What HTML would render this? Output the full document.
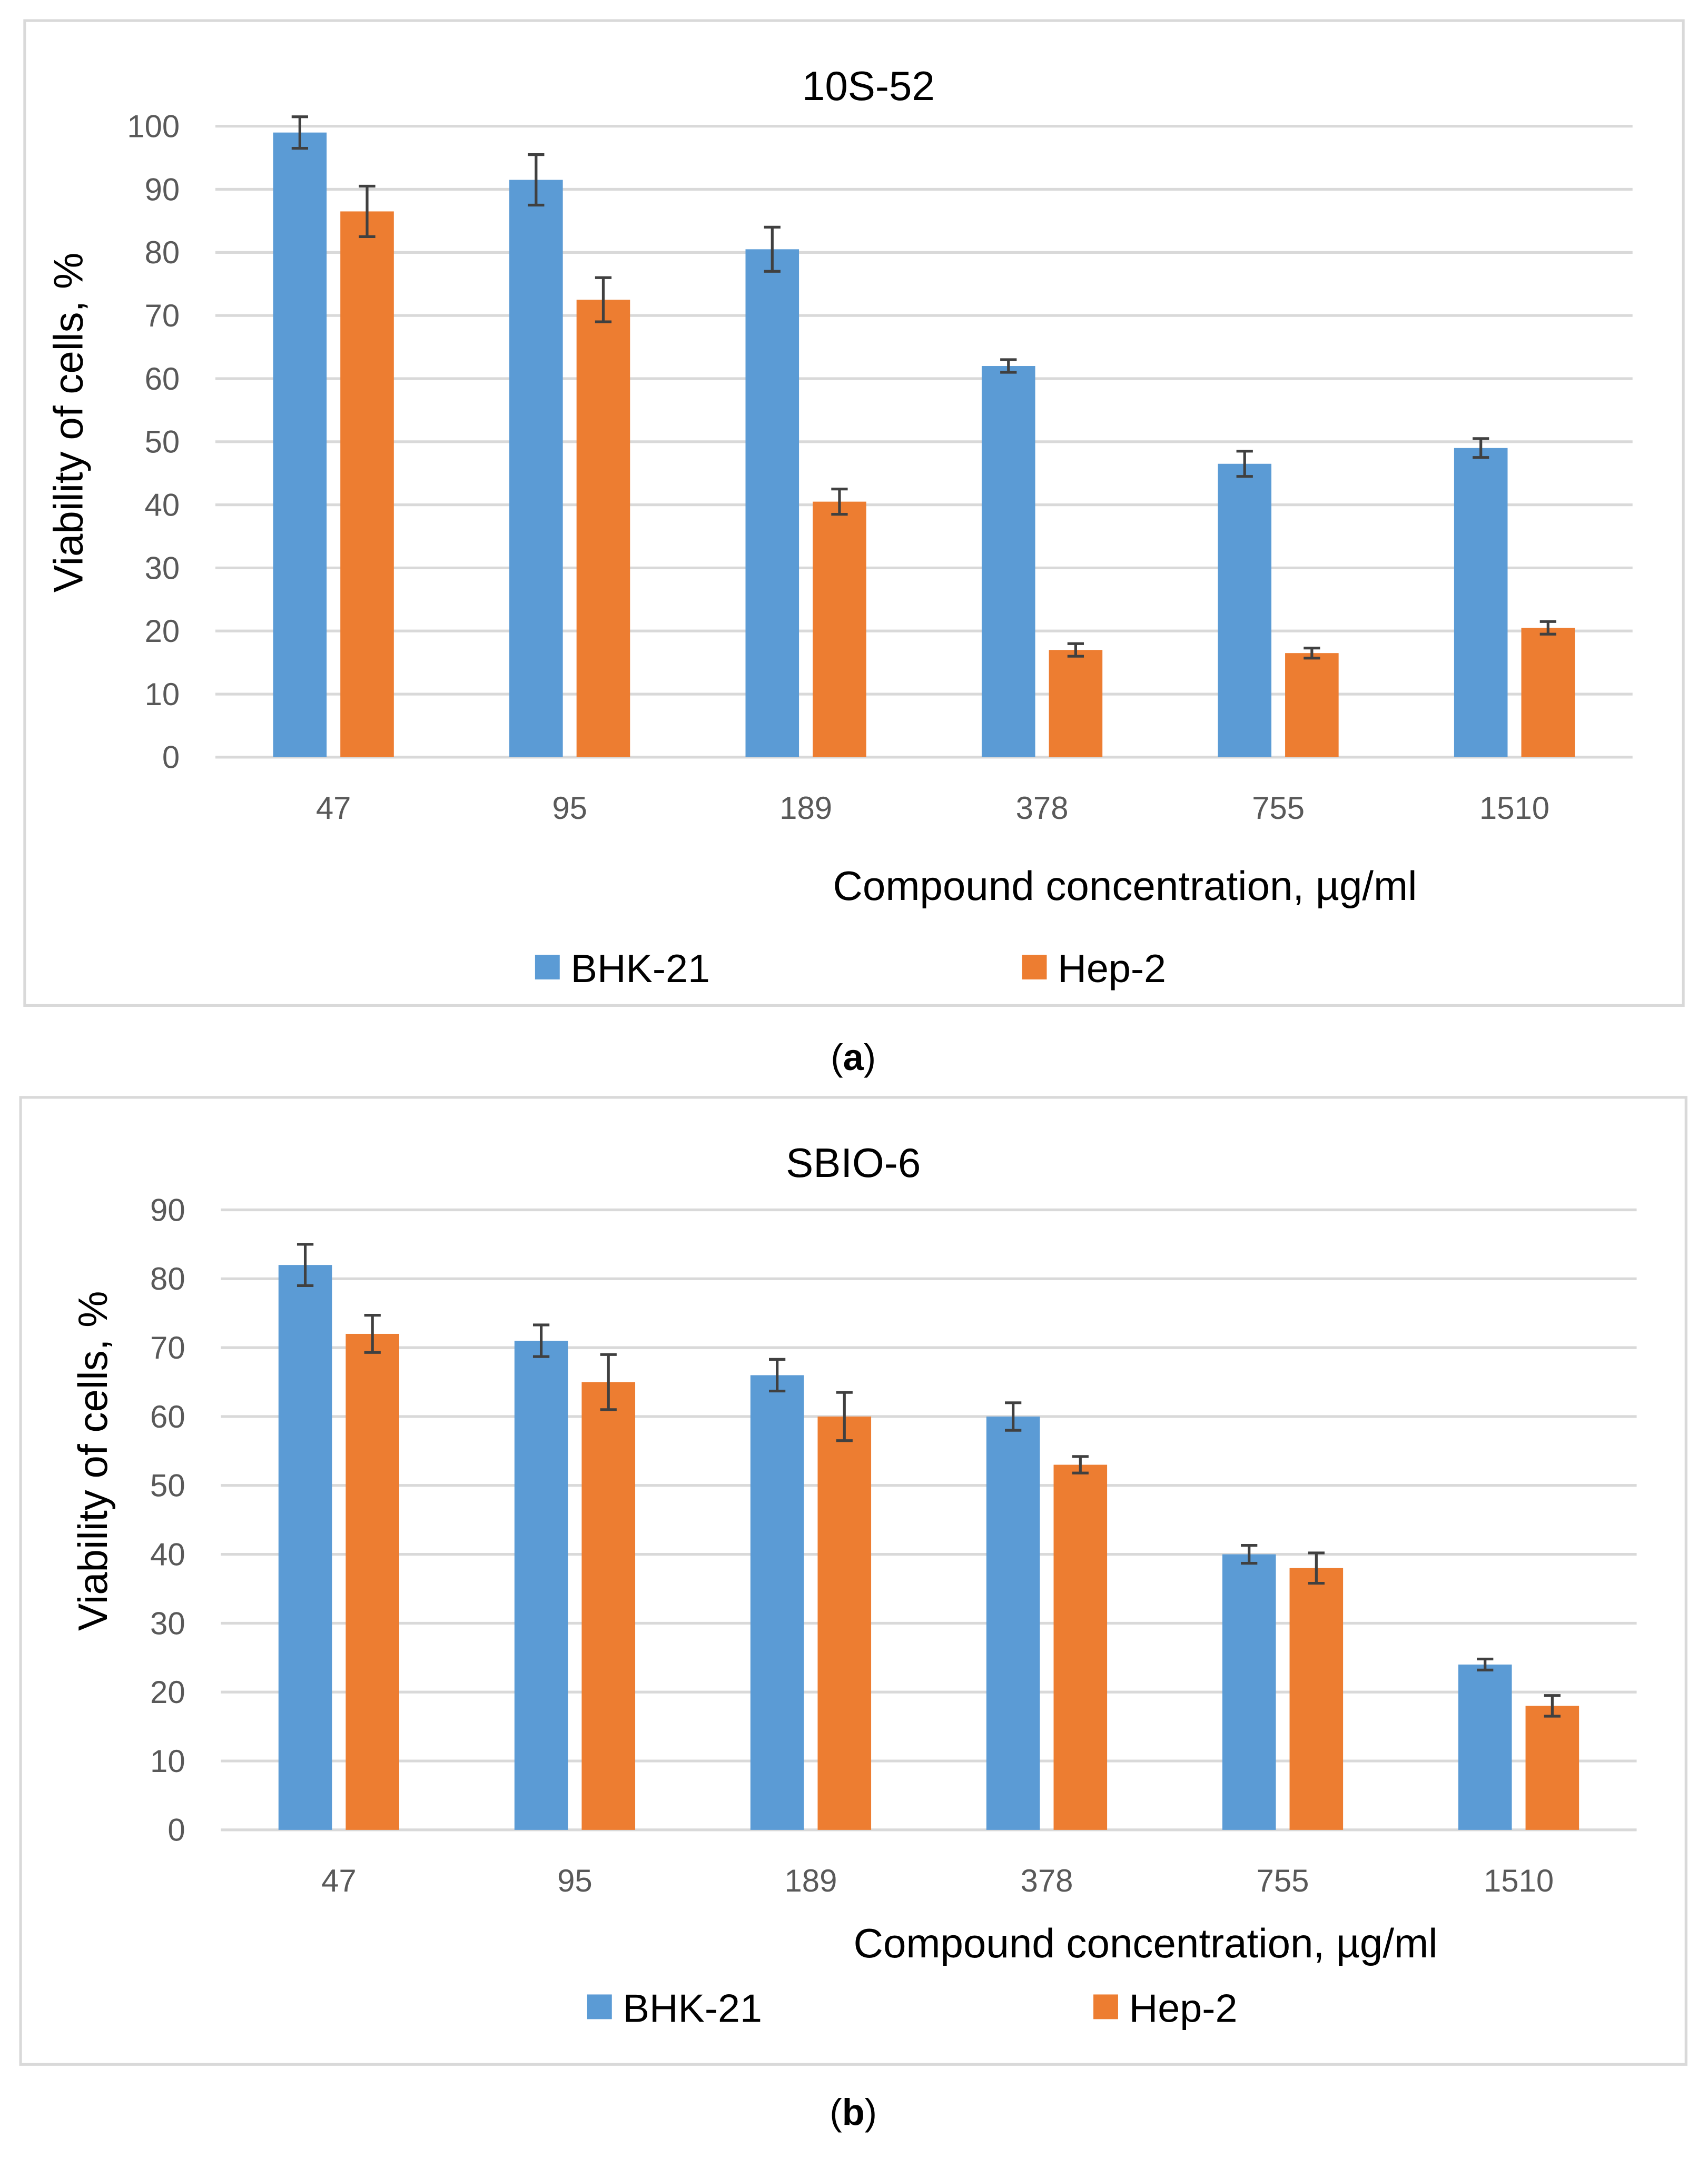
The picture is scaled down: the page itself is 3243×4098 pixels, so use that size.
<!DOCTYPE html>
<html><head><meta charset="utf-8"><style>
html,body{margin:0;padding:0;background:#fff;}
svg{display:block;}
text{font-family:"Liberation Sans",sans-serif;}
</style></head><body>
<svg id="root" width="3243" height="4098" viewBox="0 0 1245 1573.2" xmlns="http://www.w3.org/2000/svg">
<rect x="0" y="0" width="1245" height="1573.2" fill="#fff"/>
<g id="chartA"></g>
<g id="chartB"></g>
<text x="622" y="780" font-family="Liberation Serif,serif" font-size="27" text-anchor="middle" fill="#000">(<tspan font-weight="bold">a</tspan>)</text>
<text x="622" y="1549" font-family="Liberation Serif,serif" font-size="27" text-anchor="middle" fill="#000">(<tspan font-weight="bold">b</tspan>)</text>
</svg>
<script>
const categories = ["47","95","189","378","755","1510"];
const aBHK = [99, 91.5, 80.5, 62, 46.5, 49];
const aBHKerr = [2.5, 4, 3.5, 1, 2, 1.5];
const aHep = [86.5, 72.5, 40.5, 17, 16.5, 20.5];
const aHepErr = [4, 3.5, 2, 1, 0.8, 1];
const aTicks = [0,10,20,30,40,50,60,70,80,90,100];
const bBHK = [82, 71, 66, 60, 40, 24];
const bBHKerr = [3, 2.3, 2.3, 2, 1.3, 0.8];
const bHep = [72, 65, 60, 53, 38, 18];
const bHepErr = [2.7, 4, 3.5, 1.2, 2.2, 1.5];
const bTicks = [0,10,20,30,40,50,60,70,80,90];

const NS = "http://www.w3.org/2000/svg";
function mk(parent, tag, attrs, text){
  const e = document.createElementNS(NS, tag);
  for (const k in attrs) e.setAttribute(k, attrs[k]);
  if (text !== undefined) e.textContent = text;
  parent.appendChild(e);
  return e;
}
function draw(g, cfg, bhk, bhkE, hep, hepE, ticks){
  const y = v => cfg.y0 - (v - 0) / (ticks[ticks.length-1]) * (cfg.y0 - cfg.yTop);
  const xc = i => cfg.x0 + (i + 0.5) * (cfg.x1 - cfg.x0) / categories.length;
  let r = mk(g, "rect", {x:cfg.bx, y:cfg.by, width:cfg.bw, height:cfg.bh, fill:"#fff", stroke:"#d9d9d9", "stroke-width":2});
  
  
  ticks.forEach(t => {
    const l = mk(g, "line", {x1:cfg.x0, x2:cfg.x1, y1:y(t), y2:y(t), stroke:"#d9d9d9", "stroke-width":2});
    
    
    const tx = mk(g, "text", {x:cfg.x0 - 26, y:y(t) + 8, "font-size":23, fill:"#595959", "text-anchor":"end"}, String(t));
    
    
  });
  const bw = 39, gap = 10;
  categories.forEach((c, i) => {
    const cx = xc(i);
    [[bhk, bhkE, "#5b9bd5", -1, "bar-bhk-21"], [hep, hepE, "#ed7d31", 1, "bar-hep-2"]].forEach(s => {
      const v = s[0][i], e = s[1][i];
      const bx = s[3] < 0 ? cx - gap/2 - bw : cx + gap/2;
      const b = mk(g, "rect", {x:bx, y:y(v), width:bw, height:y(0) - y(v), fill:s[2]});
      
      
      const mx = bx + bw/2;
      const eb = mk(g, "path", {d:`M${mx-6},${y(v+e)}H${mx+6}M${mx},${y(v+e)}V${y(v-e)}M${mx-6},${y(v-e)}H${mx+6}`, stroke:"#404040", "stroke-width":2, fill:"none"});
      
      
    });
    const tl = mk(g, "text", {x:cx, y:cfg.y0 + 45, "font-size":23, fill:"#595959", "text-anchor":"middle"}, c);
    
    
  });
  const ti = mk(g, "text", {x:cfg.tx, y:cfg.ty, "font-size":30, fill:"#000", "text-anchor":"middle"}, cfg.title);
  
  
  const xt = mk(g, "text", {x:cfg.xtx, y:cfg.xty, "font-size":30, fill:"#000", "text-anchor":"middle"}, "Compound concentration, \u00b5g/ml");
  
  
  const yt = mk(g, "text", {x:0, y:0, "font-size":30, fill:"#000", "text-anchor":"middle", transform:`translate(${cfg.ytx},${cfg.yty}) rotate(-90)`}, "Viability of  cells, %");
  
  
  [[cfg.l1, "#5b9bd5", "BHK-21"], [cfg.l2, "#ed7d31", "Hep-2"]].forEach(L => {
    const s = mk(g, "rect", {x:L[0], y:cfg.ly - 9, width:18, height:18, fill:L[1]});
    
    
    const t = mk(g, "text", {x:L[0] + 26, y:cfg.ly + 11, "font-size":29, fill:"#000"}, L[2]);
    
    
  });
}
draw(document.getElementById("chartA"), {bx:18,by:15,bw:1209,bh:718,x0:157,x1:1190,y0:552,yTop:92,tx:633,ty:73,xtx:820,xty:656,ytx:60,yty:308,ly:705,l1:390,l2:745,title:"10S-52"}, aBHK, aBHKerr, aHep, aHepErr, aTicks);
draw(document.getElementById("chartB"), {bx:15,by:800,bw:1214,bh:705,x0:161,x1:1193,y0:1334,yTop:882,tx:622,ty:858,xtx:835,xty:1427,ytx:78,yty:1065,ly:1463,l1:428,l2:797,title:"SBIO-6"}, bBHK, bBHKerr, bHep, bHepErr, bTicks);
</script>
</body></html>
